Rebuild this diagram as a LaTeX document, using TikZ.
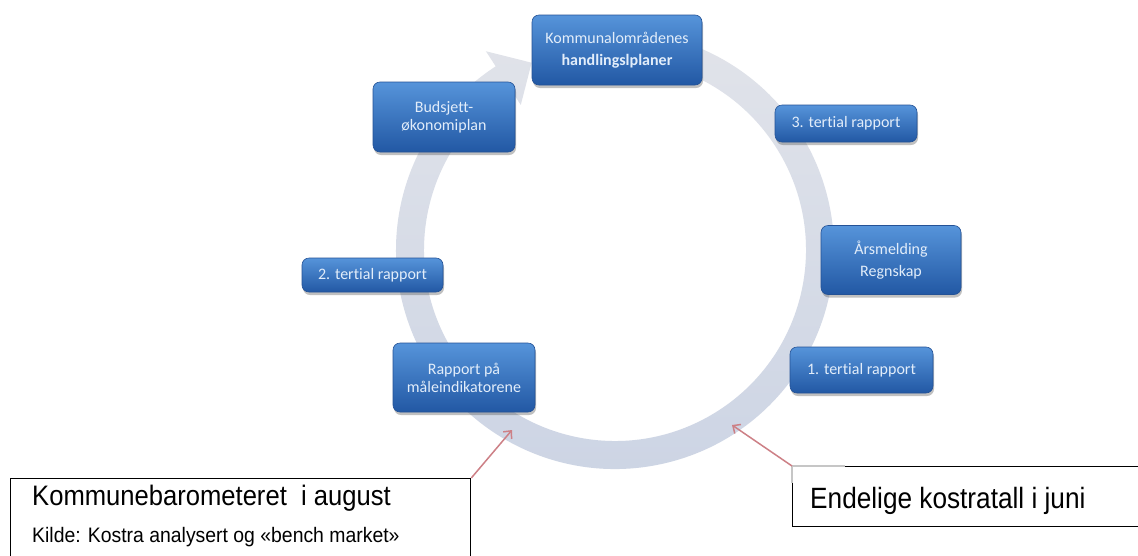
\documentclass[tikz,border=0pt]{standalone}
\usepackage{fontspec}
\newfontfamily\carlito[Ligatures=NoCommon]{Carlito}
\newfontfamily\arialf{Liberation Sans}
\usetikzlibrary{shadows,arrows.meta,calc}
\definecolor{ringtop}{RGB}{226,228,234}
\definecolor{ringbot}{RGB}{204,212,228}
\definecolor{btop}{RGB}{86,148,218}
\definecolor{bbot}{RGB}{34,88,164}
\definecolor{bdraw}{RGB}{36,82,150}
\definecolor{btext}{RGB}{226,237,250}
\definecolor{redarr}{RGB}{205,128,134}
\begin{document}
\begin{tikzpicture}[x=1pt,y=-1pt,
  bluebox/.style={rounded corners=7pt, draw=bdraw, line width=0.6pt,
    top color=btop, bottom color=bbot, text=btext, align=center, inner sep=0pt,
    font=\carlito\fontsize{16}{18}\selectfont,
    drop shadow={shadow xshift=1pt, shadow yshift=-3pt, opacity=0.35, fill=black!70}},
  tbox/.style={draw=black, line width=1.3pt, fill=white, inner sep=0pt},
  redline/.style={draw=redarr, line width=1.5pt, -{Straight Barb[length=6pt,width=11pt]}}
]
\useasboundingbox (0,0) rectangle (1138,555);
\clip (0,0) rectangle (1138,555);
\fill[white] (0,0) rectangle (1138,555);
\coordinate (C) at (615,250);
% circular block arrow
\shade[top color=ringtop, bottom color=ringbot] ($(C)+(256:219)$) arc[start angle=256,end angle=597,radius=219]
  -- ($(C)+(597:237)$) -- ($(C)+(606:205)$) -- ($(C)+(597:173)$)
  -- ($(C)+(597:191)$) arc[start angle=597,end angle=256,radius=191] -- cycle;
% blue boxes
\node[bluebox, minimum width=170pt, minimum height=70pt] (kom) at (617,50)
  {Kommunalområdenes\\[4pt]\textbf{handlingslplaner}};
\node[bluebox, minimum width=142pt, minimum height=70pt] (bud) at (444,117)
  {Budsjett-\\økonomiplan};
\node[bluebox, minimum width=142pt, minimum height=37pt] (t3) at (846,123.5)
  {3. tertial rapport};
\node[bluebox, minimum width=141pt, minimum height=34pt] (t2) at (372.5,275)
  {2. tertial rapport};
\node[bluebox, minimum width=140pt, minimum height=69pt] (aar) at (891,260)
  {Årsmelding\\[4pt]Regnskap};
\node[bluebox, minimum width=142pt, minimum height=69pt] (rap) at (464,377.5)
  {Rapport på\\måleindikatorene};
\node[bluebox, minimum width=143pt, minimum height=46pt] (t1) at (861.5,370)
  {1. tertial rapport};
% text boxes
\node[tbox, minimum width=460pt, minimum height=100pt, anchor=north west] (kb) at (10,478) {};
\node[tbox, minimum width=360pt, minimum height=60pt, anchor=north west] (ek) at (792,466) {};
\draw[gray!45, line width=1.4pt] (ek.north west) -- ++(53,0);
\draw[gray!45, line width=1.4pt] (ek.north west) -- ++(0,17);
\node[anchor=base west, inner sep=0pt, font=\arialf\fontsize{25.6}{30}\selectfont] (kbt1) at (32,505)
  {\scalebox{1}[1.1]{Kommunebarometeret\ \ i august}};
\node[anchor=base west, inner sep=0pt, font=\arialf\fontsize{19.4}{22}\selectfont] (kbt2) at (32,542)
  {\scalebox{1}[1.08]{Kilde: Kostra analysert og «bench market»}};
\node[anchor=base west, inner sep=0pt, font=\arialf\fontsize{26.2}{30}\selectfont] (ekt) at (810,508)
  {\scalebox{1}[1.12]{Endelige kostratall i juni}};
% red pointers
\coordinate (tipL) at (512,430);
\coordinate (tipR) at (732,425);
\draw[redline] (kb.north east) -- (tipL);
\draw[redline] (ek.north west) -- (tipR);
\end{tikzpicture}
\end{document}
